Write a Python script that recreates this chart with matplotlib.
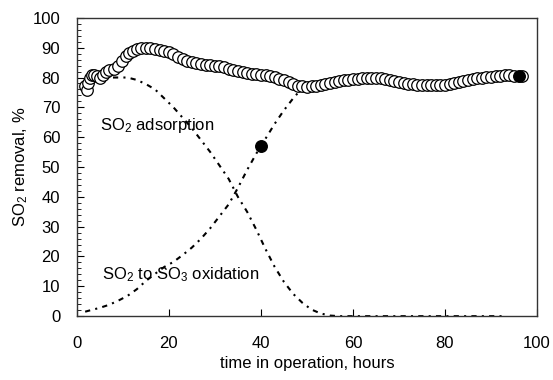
import numpy as np
import matplotlib
matplotlib.use("Agg")
import matplotlib.pyplot as plt
from matplotlib.ticker import MultipleLocator

plt.rcParams["font.family"] = ["Liberation Sans", "DejaVu Sans"]
plt.rcParams["mathtext.fontset"] = "custom"
plt.rcParams["mathtext.rm"] = "Liberation Sans"
plt.rcParams["mathtext.default"] = "regular"

# SO2 removal, measured (open circles)
removal_t = [1.8, 2.1, 2.5, 2.9, 3.3, 3.8, 4.4, 5.0, 5.6, 6.3, 7.0, 8.0, 9.0, 9.8,
             10.6, 11.4, 12.2, 13.1, 14.0, 15.0, 16.0, 17.0, 18.0, 19.0,
             20, 21, 22, 23, 24, 25, 26, 27, 28, 29, 30, 31, 32, 33, 34, 35,
             36, 37, 38, 39, 40, 41, 42, 43, 44, 45, 46, 47, 48, 49, 50, 51,
             52, 53, 54, 55, 56, 57, 58, 59, 60, 61, 62, 63, 64, 65, 66, 67,
             68, 69, 70, 71, 72, 73, 74, 75, 76, 77, 78, 79, 80, 81, 82, 83,
             84, 85, 86, 87, 88, 89, 90, 91, 92, 93, 94, 95, 96.8]
removal_pct = [77.0, 75.8, 78.0, 80.0, 80.8, 81.0, 80.5, 79.8, 80.8, 82.0, 82.6, 82.8, 84.0, 85.5,
               87.2, 88.2, 88.8, 89.4, 89.8, 90.0, 89.8, 89.6, 89.3, 89.0,
               88.4, 87.8, 87.0, 86.3, 85.7, 85.2, 84.8, 84.5, 84.3, 84.1, 83.9, 83.7, 83.4, 83.0, 82.6, 82.2,
               81.8, 81.5, 81.3, 81.1, 81.0, 80.9, 80.6, 80.1, 79.6, 79.1, 78.5, 77.9, 77.3, 77.0, 76.9, 77.0,
               77.2, 77.4, 77.8, 78.3, 78.6, 78.9, 79.1, 79.3, 79.4, 79.6, 79.8, 79.9, 79.9, 79.8, 79.7, 79.4,
               79.1, 78.7, 78.4, 78.1, 77.9, 77.7, 77.6, 77.5, 77.5, 77.5, 77.5, 77.6, 77.6, 77.8, 78.1, 78.4,
               78.8, 79.2, 79.5, 79.7, 79.9, 80.1, 80.2, 80.4, 80.6, 80.7, 80.7, 80.6, 80.4]

# filled points
filled_t = [40.1, 96.2]
filled_pct = [57.0, 80.4]

# SO2 adsorption contribution
ads_t = [4, 8, 11, 13, 15, 17, 19, 21, 23, 25, 27, 29, 31, 33, 35, 37, 39, 41,
         43, 45, 47, 49, 51, 53, 55, 57, 93]
ads_pct = [80, 80, 80, 79.2, 77.8, 76, 73, 70, 66.5, 63, 59, 55, 50.5, 46, 40, 35, 29, 22.5,
           16.5, 11.5, 7.5, 4.5, 2.2, 0.9, 0.2, 0, 0]

# SO2 to SO3 oxidation contribution
ox_t = [1.8, 3, 5, 7, 9, 11, 13, 15, 17, 19, 21, 23, 25, 27, 29, 31, 33, 35, 37, 39,
        41, 43, 45, 47, 49, 50]
ox_pct = [1.5, 2, 2.8, 3.8, 5.2, 6.8, 9, 11.8, 14.2, 16.5, 18.2, 20.5, 23, 26, 29.5, 33.5,
          37.5, 43, 49, 54.5, 59.5, 64.5, 69, 73, 76.5, 77.5]

fig = plt.figure(figsize=(5.53, 3.8), dpi=100)
ax = fig.add_axes([0.139, 0.168, 0.832, 0.785])

dash = (0, (2.5, 2.5, 1, 2.5))
ax.plot(ads_t, ads_pct, color="black", lw=1.5, linestyle=dash, zorder=2)
ax.plot(ox_t, ox_pct, color="black", lw=1.5, linestyle=dash, zorder=2)
ax.plot(removal_t, removal_pct, linestyle="none", marker="o", ms=8.3,
        mfc="white", mec="black", mew=0.9, zorder=3)
ax.plot(filled_t, filled_pct, linestyle="none", marker="o", ms=8.3,
        mfc="black", mec="black", zorder=4)

ax.text(5, 64, r"SO$_2$ adsorption", fontsize=12, va="center", ha="left")
ax.text(5.4, 13.8, r"SO$_2$ to SO$_3$ oxidation", fontsize=12, va="center", ha="left")

ax.set_xlim(0, 100)
ax.set_ylim(0, 100)
ax.xaxis.set_major_locator(MultipleLocator(20))
ax.yaxis.set_major_locator(MultipleLocator(10))
ax.yaxis.set_minor_locator(MultipleLocator(2))
ax.tick_params(axis="both", which="major", direction="in", length=5, labelsize=12)
ax.tick_params(axis="x", pad=14)
ax.tick_params(axis="y", pad=12)
ax.tick_params(axis="y", which="minor", direction="in", length=3)
for s in ax.spines.values():
    s.set_linewidth(1.0)
    s.set_color("#333333")

ax.set_xlabel("time in operation, hours", fontsize=12, labelpad=4)
ax.set_ylabel(r"SO$_2$ removal, %", fontsize=12, labelpad=2)

fig.savefig("out.png", dpi=100)
